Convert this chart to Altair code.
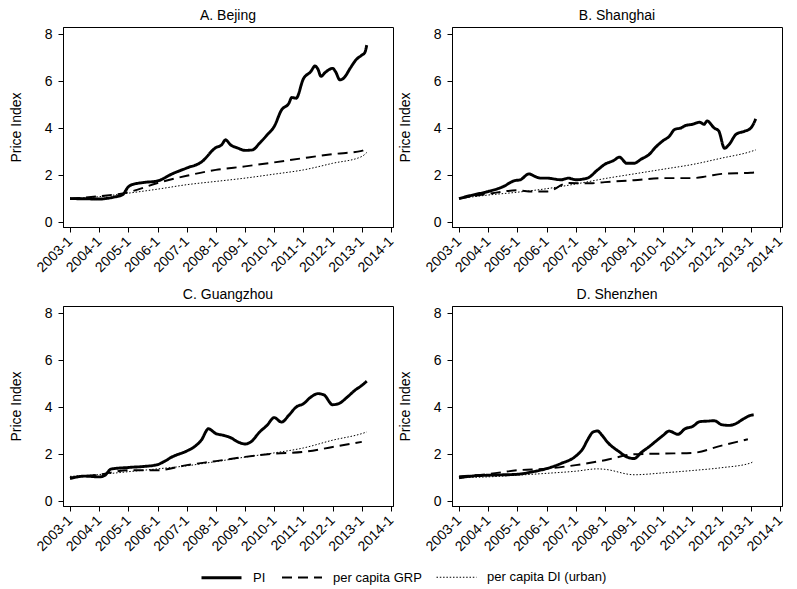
import altair as alt
import pandas as pd

SERIES = ["PI", "per capita GRP", "per capita DI (urban)"]
YEARS = list(range(2003, 2015))

# ---- A. Beijing ----
bj_pi_t = [2003.0, 2003.5, 2004.0, 2004.5, 2004.8, 2005.0, 2005.1, 2005.5, 2006.0, 2006.5,
           2007.0, 2007.5, 2008.0, 2008.2, 2008.33, 2008.5, 2008.75, 2009.0, 2009.25, 2009.5,
           2009.75, 2010.0, 2010.25, 2010.5, 2010.6, 2010.75, 2011.0, 2011.25, 2011.4, 2011.5,
           2011.6, 2011.75, 2012.0, 2012.1, 2012.25, 2012.4, 2012.6, 2012.8, 2013.0, 2013.1, 2013.17]
bj_pi = [1.0, 0.99, 0.98, 1.06, 1.16, 1.5, 1.58, 1.68, 1.75, 2.05,
         2.3, 2.55, 3.17, 3.29, 3.5, 3.29, 3.15, 3.05, 3.07, 3.36,
         3.7, 4.07, 4.77, 5.05, 5.3, 5.27, 6.1, 6.4, 6.64, 6.5,
         6.2, 6.37, 6.54, 6.4, 6.05, 6.15, 6.54, 6.9, 7.1, 7.2, 7.53]
bj_grp_t = [2003, 2004, 2005, 2006, 2007, 2008, 2009, 2010, 2011, 2012, 2013, 2013.17]
bj_grp = [1.0, 1.1, 1.27, 1.66, 1.97, 2.22, 2.37, 2.54, 2.72, 2.89, 3.03, 3.14]
bj_di_t = [2003, 2004, 2005, 2006, 2007, 2008, 2009, 2010, 2011, 2012, 2013, 2013.17]
bj_di = [1.0, 1.08, 1.23, 1.4, 1.59, 1.73, 1.87, 2.04, 2.22, 2.5, 2.79, 2.96]

# ---- B. Shanghai ----
sh_pi_t = [2003.0, 2003.5, 2004.0, 2004.5, 2004.9, 2005.1, 2005.4, 2005.6, 2005.8, 2006.0,
           2006.5, 2006.75, 2007.0, 2007.4, 2007.75, 2008.0, 2008.3, 2008.5, 2008.75, 2009.0,
           2009.25, 2009.5, 2009.75, 2010.0, 2010.2, 2010.4, 2010.6, 2010.75, 2011.0, 2011.25,
           2011.4, 2011.5, 2011.75, 2011.9, 2012.1, 2012.25, 2012.5, 2012.75, 2013.0, 2013.17]
sh_pi = [1.0, 1.16, 1.3, 1.5, 1.76, 1.8, 2.05, 1.94, 1.87, 1.87,
         1.8, 1.87, 1.8, 1.87, 2.22, 2.46, 2.62, 2.76, 2.5, 2.5,
         2.68, 2.86, 3.2, 3.47, 3.64, 3.95, 4.0, 4.1, 4.16, 4.25,
         4.16, 4.3, 4.0, 3.88, 3.14, 3.29, 3.74, 3.85, 4.0, 4.39]
sh_grp_t = [2003, 2004, 2005, 2005.5, 2006, 2006.75, 2007.5, 2008, 2009, 2010, 2011, 2011.5, 2012, 2013, 2013.17]
sh_grp = [1.0, 1.2, 1.35, 1.3, 1.3, 1.66, 1.65, 1.7, 1.78, 1.87, 1.87, 1.95, 2.05, 2.1, 2.12]
sh_di_t = [2003, 2004, 2005, 2006, 2007, 2008, 2009, 2010, 2011, 2012, 2013, 2013.17]
sh_di = [1.0, 1.15, 1.27, 1.42, 1.62, 1.85, 2.05, 2.25, 2.45, 2.72, 3.0, 3.07]

# ---- C. Guangzhou ----
gz_pi_t = [2003.0, 2003.5, 2004.0, 2004.2, 2004.4, 2005.0, 2005.5, 2006.0, 2006.25, 2006.5,
           2007.0, 2007.25, 2007.5, 2007.75, 2007.85, 2008.0, 2008.25, 2008.5, 2008.75, 2009.0,
           2009.2, 2009.5, 2009.75, 2010.0, 2010.25, 2010.5, 2010.75, 2011.0, 2011.25, 2011.5,
           2011.7, 2012.0, 2012.2, 2012.5, 2012.75, 2013.0, 2013.17]
gz_pi = [0.96, 1.06, 1.03, 1.1, 1.36, 1.43, 1.47, 1.55, 1.7, 1.88,
         2.13, 2.3, 2.59, 3.08, 3.01, 2.87, 2.8, 2.7, 2.52, 2.43,
         2.52, 2.94, 3.22, 3.55, 3.36, 3.65, 4.0, 4.14, 4.42, 4.57,
         4.52, 4.1, 4.14, 4.42, 4.7, 4.92, 5.1]
gz_grp_t = [2003, 2004, 2005, 2006, 2007, 2008, 2009, 2010, 2011, 2012, 2013]
gz_grp = [1.0, 1.13, 1.31, 1.31, 1.53, 1.7, 1.88, 2.02, 2.09, 2.3, 2.52]
gz_di_t = [2003, 2004, 2005, 2006, 2007, 2008, 2009, 2010, 2011, 2012, 2013, 2013.17]
gz_di = [1.05, 1.13, 1.25, 1.37, 1.5, 1.68, 1.87, 2.05, 2.26, 2.59, 2.87, 2.94]

# ---- D. Shenzhen ----
sz_pi_t = [2003.0, 2003.5, 2004.0, 2005.0, 2005.5, 2006.0, 2006.5, 2007.0, 2007.25, 2007.4,
           2007.6, 2007.75, 2007.9, 2008.1, 2008.5, 2008.75, 2009.0, 2009.25, 2009.5, 2009.75,
           2010.0, 2010.2, 2010.5, 2010.75, 2011.0, 2011.25, 2011.5, 2011.75, 2012.0, 2012.25,
           2012.5, 2012.75, 2013.0, 2013.1]
sz_pi = [0.99, 1.07, 1.1, 1.14, 1.24, 1.38, 1.6, 1.91, 2.24, 2.59,
         2.94, 2.98, 2.8, 2.49, 2.09, 1.88, 1.81, 2.07, 2.3, 2.55,
         2.8, 2.98, 2.84, 3.08, 3.17, 3.38, 3.4, 3.42, 3.25, 3.22,
         3.3, 3.5, 3.65, 3.67]
sz_grp_t = [2003, 2004, 2005, 2006, 2007, 2008, 2009, 2010, 2011, 2012, 2012.9]
sz_grp = [1.05, 1.15, 1.31, 1.38, 1.53, 1.74, 1.99, 2.02, 2.05, 2.36, 2.63]
sz_di_t = [2003, 2004, 2005, 2006, 2007, 2007.75, 2008, 2009, 2010, 2011, 2012, 2013, 2013.1]
sz_di = [1.0, 1.03, 1.1, 1.18, 1.27, 1.37, 1.35, 1.12, 1.2, 1.3, 1.42, 1.62, 1.7]

FONT = "Liberation Sans"


def frame(t_pi, pi, t_grp, grp, t_di, di):
    rows = []
    for s, ts, vs in ((SERIES[0], t_pi, pi), (SERIES[1], t_grp, grp), (SERIES[2], t_di, di)):
        rows += [{"series": s, "t": t, "v": v} for t, v in zip(ts, vs)]
    return pd.DataFrame(rows)


leg = alt.Legend(title=None, orient="none", legendX=137, legendY=529,
                 direction="horizontal", symbolType="stroke", symbolSize=1600,
                 symbolStrokeColor="black", labelFontSize=13, labelFont=FONT,
                 labelColor="black", labelOffset=10, columnPadding=12)


def panel(df, title):
    return alt.Chart(df).mark_line(color="black", interpolate="monotone").encode(
        x=alt.X("t:Q", scale=alt.Scale(domain=[2002.76, 2014.07], nice=False, zero=False),
                axis=alt.Axis(values=YEARS, labelExpr="datum.value + '-1'", labelAngle=-45,
                              labelAlign="right", labelBaseline="top", labelOffset=-5,
                              labelOverlap=False, labelFlush=False, labelBound=False,
                              labelFontSize=14, labelPadding=2, title=None)),
        y=alt.Y("v:Q", scale=alt.Scale(domain=[-0.21, 8.3], nice=False, zero=False),
                axis=alt.Axis(values=[0, 2, 4, 6, 8], title="Price Index", labelFontSize=14,
                              labelPadding=6, titlePadding=21, titleFontSize=14)),
        strokeDash=alt.StrokeDash("series:N", scale=alt.Scale(domain=SERIES, range=[[1, 0], [10, 6], [1.5, 1.8]]), legend=leg),
        strokeWidth=alt.StrokeWidth("series:N", scale=alt.Scale(domain=SERIES, range=[2.9, 1.0, 1.0]), legend=leg),
        order=alt.Order("t:Q"),
    ).properties(width=330, height=200,
                 title=alt.TitleParams(title, frame="group", anchor="middle", offset=4))


A = panel(frame(bj_pi_t, bj_pi, bj_grp_t, bj_grp, bj_di_t, bj_di), "A. Bejing")
B = panel(frame(sh_pi_t, sh_pi, sh_grp_t, sh_grp, sh_di_t, sh_di), "B. Shanghai")
C = panel(frame(gz_pi_t, gz_pi, gz_grp_t, gz_grp, gz_di_t, gz_di), "C. Guangzhou")
D = panel(frame(sz_pi_t, sz_pi, sz_grp_t, sz_grp, sz_di_t, sz_di), "D. Shenzhen")

chart = alt.vconcat(
    alt.hconcat(A, B, spacing=0),
    alt.hconcat(C, D, spacing=0),
    spacing=11,
).properties(padding=0).configure_view(
    stroke="black", strokeWidth=1
).configure_axis(
    grid=False, domainColor="black", tickColor="black", labelColor="black", titleColor="black",
    labelFont=FONT, titleFont=FONT, titleFontWeight="normal", tickSize=5
).configure_title(
    font=FONT, fontSize=14, fontWeight="normal", color="black"
)

chart.save("out.html", embed_options={"renderer": "svg", "actions": False})
